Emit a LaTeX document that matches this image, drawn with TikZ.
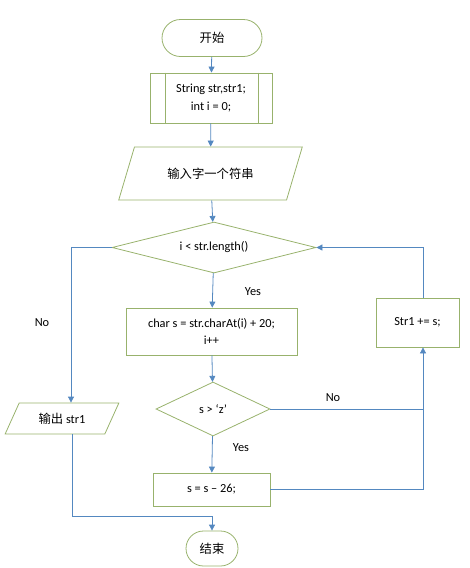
\documentclass[tikz,border=0pt]{standalone}
\usepackage{fontspec}
\setmainfont{Carlito}
\newfontfamily\cjkfont{Noto Sans CJK SC}
\usepackage{tikz}
\usetikzlibrary{shapes.geometric, shapes.misc, arrows.meta}
\definecolor{boxline}{RGB}{152,178,108}
\definecolor{flowline}{RGB}{84,136,192}

\begin{document}
\begin{tikzpicture}[x=0.75pt, y=-0.75pt,
  every node/.style={font=\fontsize{9.25}{13}\selectfont, text=black},
  terminal/.style={rounded rectangle, draw=boxline, line width=0.6pt, inner sep=0pt},
  process/.style={rectangle, draw=boxline, line width=0.6pt, inner sep=0pt, align=center},
  io/.style={trapezium, trapezium stretches=true, draw=boxline, line width=0.6pt, inner sep=0pt},
  decision/.style={diamond, draw=boxline, line width=0.6pt, inner sep=0pt},
  tag/.style={inner sep=1pt},
  flow/.style={draw=flowline, line width=0.6pt},
  arrow/.style={flow, -{Triangle[length=4.5pt,width=4.5pt]}}]

\useasboundingbox (0,0) rectangle (469,568);

% Start and set up
\node[terminal, minimum width=75pt, minimum height=27.75pt] (start) at (212,38) {\cjkfont 开始};
\node[process, minimum width=91.5pt, minimum height=37.5pt] (init) at (211,98) {String str,str1;\\ int i = 0;};
\draw[boxline, line width=0.6pt] ([xshift=12pt]init.north west) -- ([xshift=12pt]init.south west);
\draw[boxline, line width=0.6pt] ([xshift=-10.5pt]init.north east) -- ([xshift=-10.5pt]init.south east);
\node[io, trapezium left angle=52, trapezium right angle=128, minimum width=138.75pt, minimum height=39.75pt] (input) at (210.5,173.5) {\cjkfont 输入字一个符串};

% Loop
\node[decision, aspect=4, minimum width=153pt, minimum height=38.25pt] (loop) at (214,247.5) {i < str.length()};
\node[process, minimum width=128.25pt, minimum height=35.25pt] (body) at (211.5,331.5) {char s = str.charAt(i) + 20;\\ i++};
\node[decision, aspect=2.1, minimum width=85.5pt, minimum height=40.5pt] (check) at (213,409) {s > ‘z’};
\node[process, minimum width=87.75pt, minimum height=24.75pt] (sub) at (211.5,489.5) {s = s – 26;};
\node[process, minimum width=62.25pt, minimum height=36.75pt] (append) at (417.5,322.5) {Str1 += s;};

% Output and end
\node[io, trapezium left angle=56, trapezium right angle=124, minimum width=85.5pt, minimum height=23.25pt] (output) at (62,418.5) {{\cjkfont 输出} str1};
\node[terminal, minimum width=39pt, minimum height=26.25pt] (end) at (212,548.5) {\cjkfont 结束};

% Branch labels
\node[tag] (yes1) at (253,292) {Yes};
\node[tag] (no1) at (42,323) {No};
\node[tag] (no2) at (333,398) {No};
\node[tag] (yes2) at (241,448) {Yes};

\coordinate (joint) at (423,409);
\coordinate (merge) at (212,516);

% Connectors
\draw[arrow] (start) -- (init);
\draw[arrow] (init) -- (input);
\draw[arrow] (input) -- (loop);
\draw[arrow] (loop) -- (body);
\draw[arrow] (loop.west) -| ([xshift=6.75pt]output.north);
\draw[arrow] (body) -- (check);
\draw[arrow] (check) -- (sub);
\draw[flow] (check.east) -- (joint);
\draw[flow] (sub.east) -| (joint);
\draw[arrow] (joint) -- (joint |- append.south);
\draw[arrow] (joint |- append.north) |- (loop.east);
\draw[arrow] ([xshift=7.5pt]output.south) |- (merge) -- (end.north);

\end{tikzpicture}
\end{document}
